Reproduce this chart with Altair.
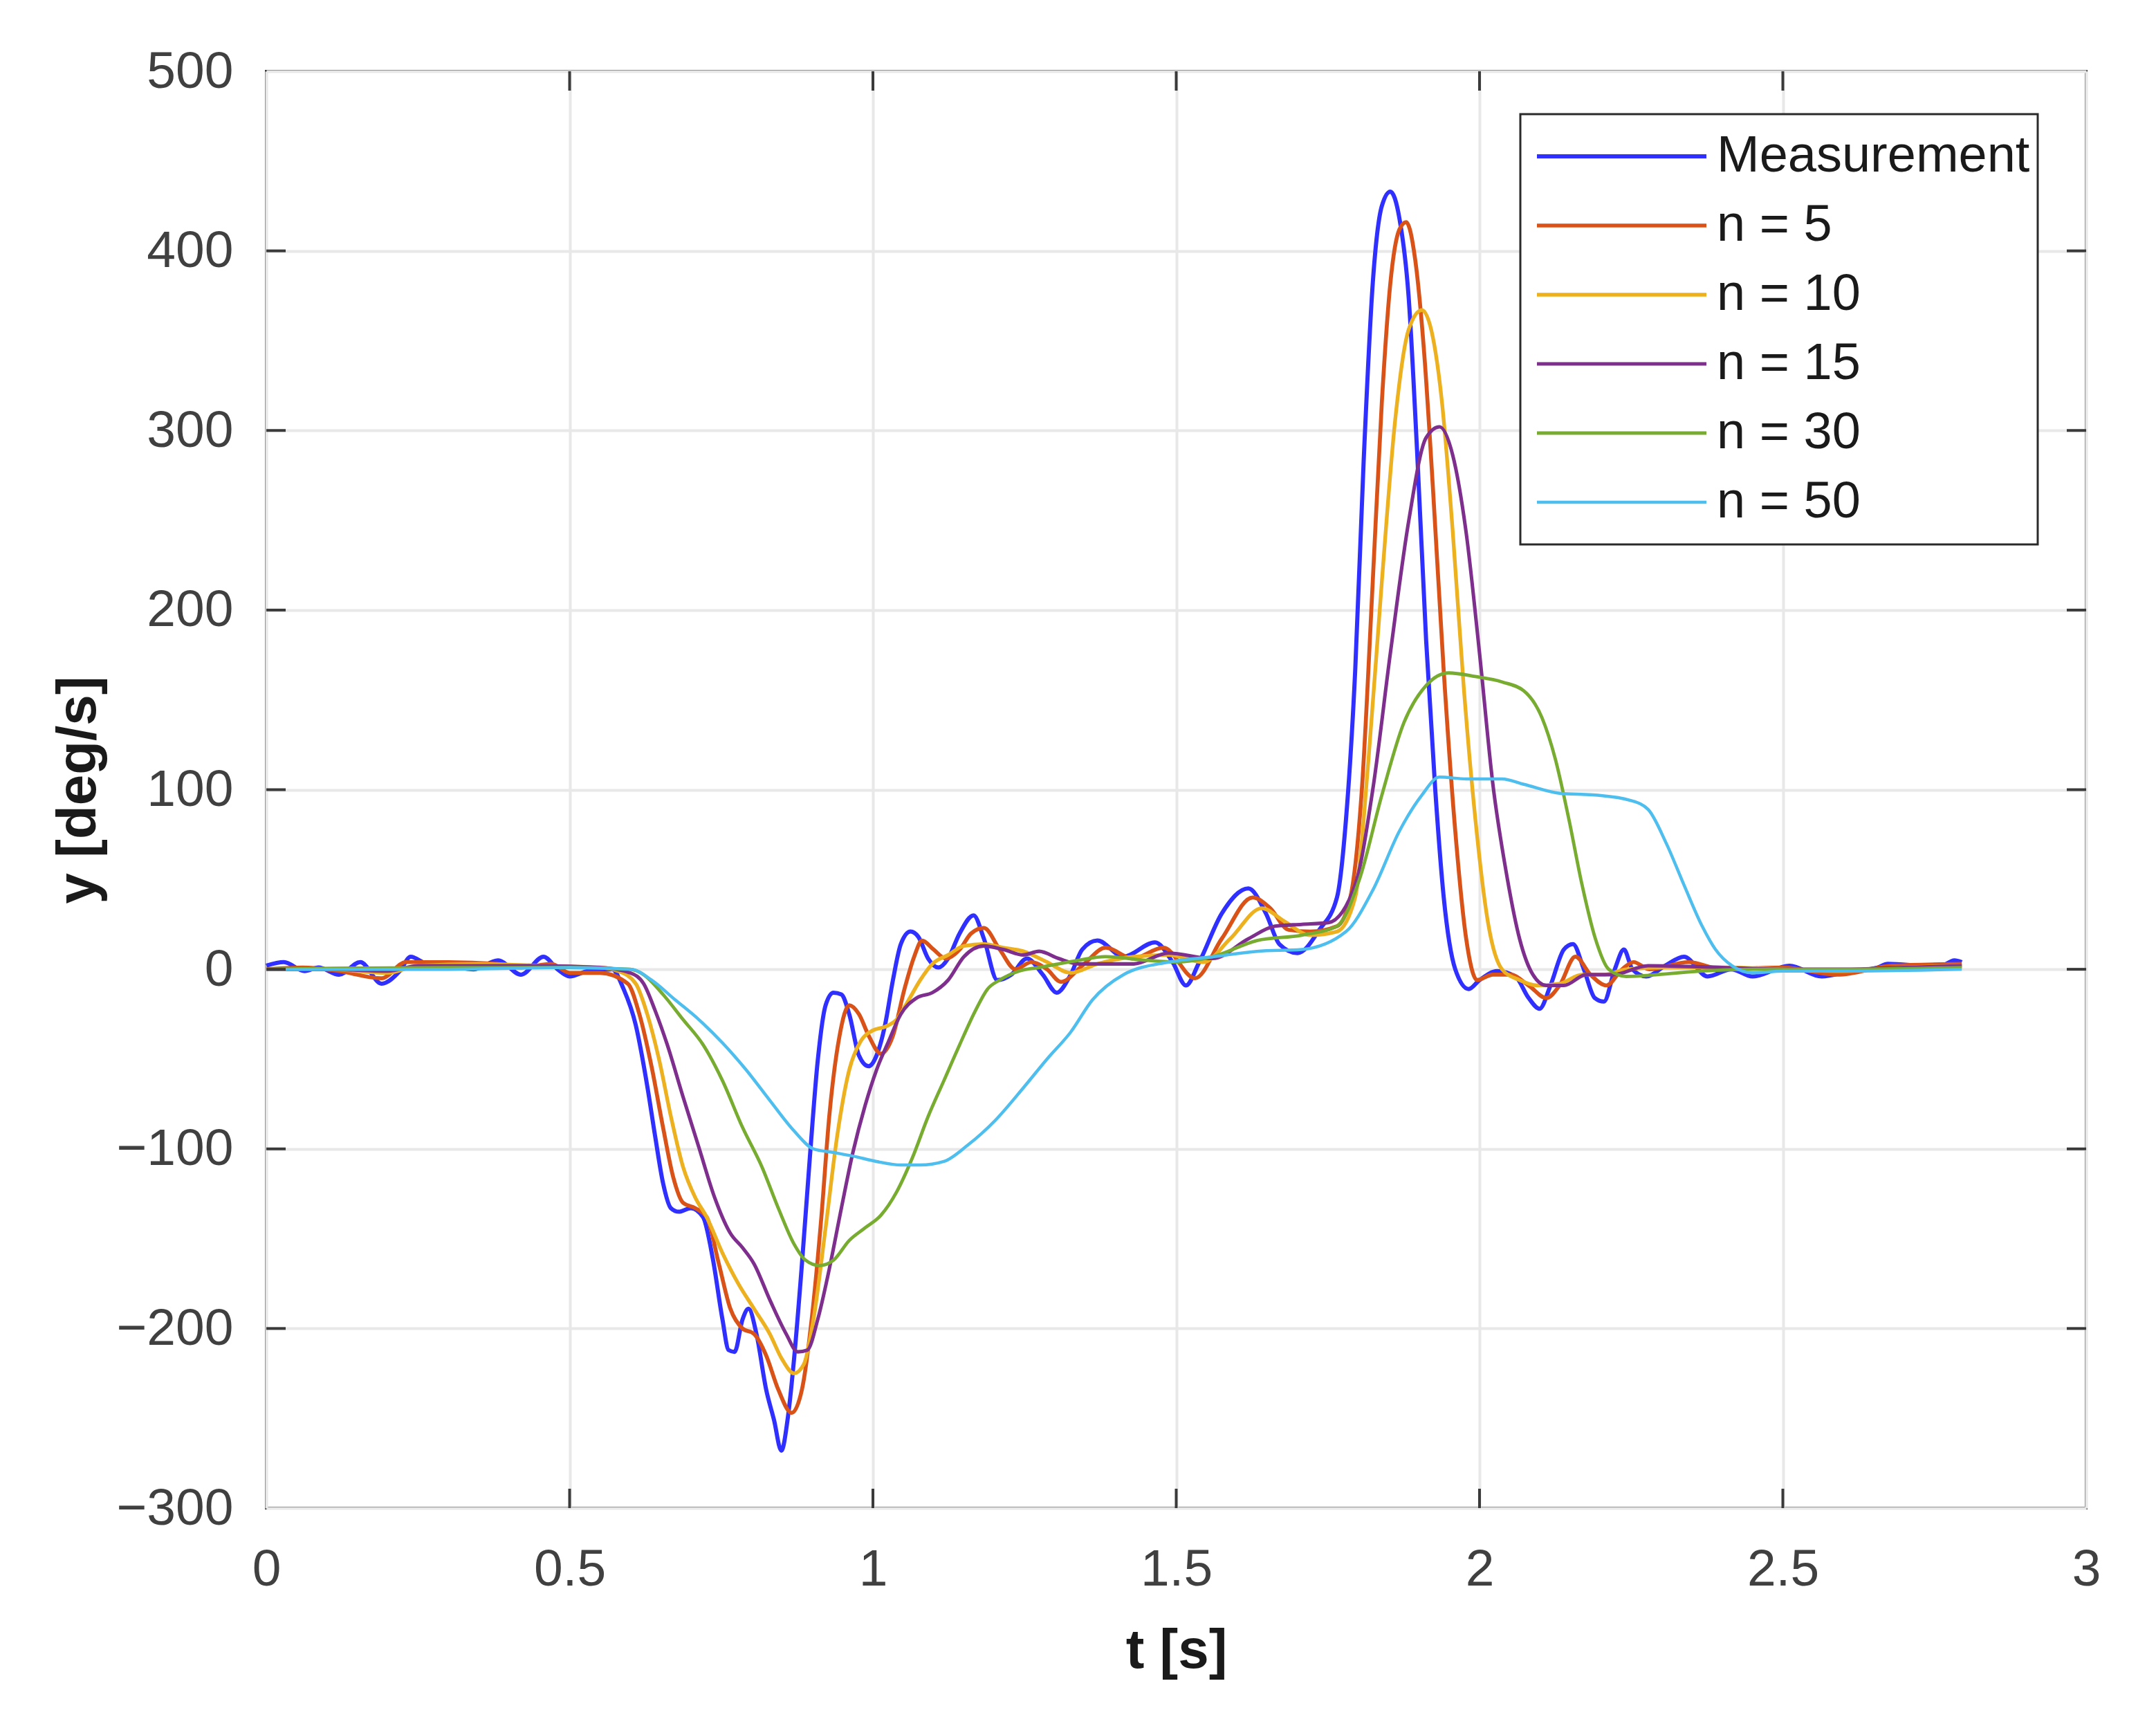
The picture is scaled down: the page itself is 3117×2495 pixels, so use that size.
import altair as alt
import pandas as pd

# ---------------- data ----------------
series_names = ["Measurement", "n = 5", "n = 10", "n = 15", "n = 30", "n = 50"]
series_colors = ["#2f2fff", "#D95319", "#EDB120", "#7E2F8E", "#77AC30", "#4DBEEE"]
series_widths = [6, 4.5, 4.5, 4.5, 4.5, 4.5]

meas_t = [0.0, 0.029, 0.063, 0.086, 0.12, 0.155, 0.19, 0.22, 0.238, 0.265, 0.30, 0.342, 0.382, 0.42, 0.457,
          0.48, 0.50, 0.53, 0.57, 0.589, 0.609, 0.628, 0.641, 0.654, 0.667, 0.68, 0.70, 0.72, 0.736, 0.752,
          0.762, 0.772, 0.785, 0.795, 0.808, 0.824, 0.837, 0.849, 0.86, 0.87, 0.883, 0.896, 0.909, 0.922,
          0.935, 0.948, 0.961, 0.977, 0.993, 1.006, 1.02, 1.033, 1.046, 1.062, 1.075, 1.091, 1.108, 1.124,
          1.143, 1.166, 1.183, 1.205, 1.228, 1.254, 1.28, 1.303, 1.326, 1.345, 1.37, 1.413, 1.465, 1.494,
          1.516, 1.538, 1.575, 1.619, 1.648, 1.67, 1.70, 1.736, 1.765, 1.78, 1.795, 1.809, 1.824, 1.839,
          1.853, 1.868, 1.883, 1.897, 1.912, 1.927, 1.941, 1.96, 1.982, 2.0, 2.029, 2.059, 2.081, 2.099,
          2.117, 2.139, 2.154, 2.172, 2.19, 2.205, 2.223, 2.238, 2.252, 2.275, 2.306, 2.337, 2.376, 2.415,
          2.45, 2.511, 2.564, 2.612, 2.656, 2.673, 2.721, 2.756, 2.783, 2.795]
meas_y = [2, 4, -1, 1, -3, 4, -8, -1, 7, 3, 2, 0, 5, -3, 7,
          0, -4, -1, 0, -11, -31, -65, -93, -119, -133, -135, -133, -138, -161, -195,
          -212, -213, -195, -189, -203, -234, -251, -268, -249, -217, -164, -105, -51, -20,
          -13, -14, -25, -48, -54, -48, -31, -6, 14, 21, 18, 6, 1, 6,
          20, 30, 17, -6, -3, 6, -3, -13, -3, 11, 16, 7, 15, 4,
          -9, 4, 31, 45, 31, 14, 9, 22, 40, 84, 166, 283, 382, 425,
          433, 418, 375, 289, 183, 100, 40, 0, -11, -6, -1, -4, -16, -22,
          -9, 11, 14, 0, -16, -18, 0, 11, 0, -4, 2, 7, -4, 0,
          -4, 2, -4, -1, 1, 3, 2, 1, 5, 4]

n5_t = [0.0, 0.06, 0.12, 0.19, 0.23, 0.30, 0.38, 0.42, 0.47, 0.50, 0.55, 0.596, 0.615, 0.635, 0.654,
        0.671, 0.687, 0.707, 0.726, 0.746, 0.765, 0.785, 0.804, 0.824, 0.844, 0.866, 0.883, 0.899, 0.915,
        0.928, 0.945, 0.961, 0.977, 0.993, 1.013, 1.033, 1.052, 1.068, 1.081, 1.10, 1.12, 1.143, 1.162,
        1.183, 1.209, 1.235, 1.261, 1.287, 1.31, 1.345, 1.384, 1.428, 1.479, 1.531, 1.575, 1.626, 1.655,
        1.685, 1.721, 1.765, 1.787, 1.806, 1.824, 1.839, 1.853, 1.868, 1.879, 1.894, 1.909, 1.923, 1.941,
        1.96, 1.978, 1.996, 2.022, 2.051, 2.081, 2.11, 2.132, 2.158, 2.183, 2.209, 2.235, 2.254, 2.28,
        2.345, 2.40, 2.50, 2.59, 2.68, 2.795]
n5_y = [0, 1, -1, -5, 4, 4, 3, 1, 3, -2, -2, -8, -25, -54, -88,
        -116, -130, -133, -138, -164, -189, -200, -203, -215, -234, -247, -234, -195, -138,
        -82, -37, -20, -25, -37, -47, -37, -11, 7, 16, 11, 6, 11, 20,
        23, 11, 0, 4, 0, -7, 2, 12, 6, 12, -5, 17, 40, 34,
        22, 21, 24, 40, 100, 216, 316, 382, 412, 416, 395, 342, 269, 166,
        77, 17, -6, -3, -3, -9, -16, -9, 7, -3, -9, 0, 4, 0,
        4, 0, 1, -3, 2, 3]

n10_t = [0.0, 0.1, 0.2, 0.25, 0.35, 0.45, 0.55, 0.58, 0.609, 0.628, 0.648, 0.667, 0.687, 0.707, 0.726,
         0.752, 0.778, 0.804, 0.83, 0.85, 0.87, 0.886, 0.902, 0.922, 0.941, 0.961, 0.98, 1.0, 1.02, 1.039,
         1.059, 1.078, 1.098, 1.124, 1.15, 1.183, 1.215, 1.248, 1.287, 1.326, 1.37, 1.43, 1.487, 1.545,
         1.589, 1.641, 1.677, 1.721, 1.765, 1.795, 1.817, 1.839, 1.861, 1.883, 1.905, 1.923, 1.938, 1.956,
         1.974, 1.993, 2.015, 2.037, 2.066, 2.095, 2.132, 2.169, 2.205, 2.242, 2.30, 2.40, 2.50, 2.60,
         2.70, 2.795]
n10_y = [0, 0, -2, 2, 3, 2, 1, -1, -8, -25, -51, -82, -110, -127, -138,
         -158, -175, -189, -203, -217, -225, -220, -195, -144, -93, -56, -40, -34, -32, -28,
         -17, -6, 3, 8, 13, 14, 12, 10, 4, -2, 3, 7, 8, 4,
         17, 34, 27, 19, 21, 40, 117, 216, 306, 356, 367, 352, 316, 243,
         157, 84, 24, 0, -6, -9, -8, -3, -3, 0, 1, 1, 0, -1,
         1, 2]

n15_t = [0.0, 0.1, 0.2, 0.25, 0.35, 0.45, 0.55, 0.60, 0.622, 0.641, 0.661, 0.687, 0.713, 0.739, 0.765,
         0.785, 0.804, 0.83, 0.857, 0.876, 0.892, 0.909, 0.928, 0.948, 0.967, 0.987, 1.006, 1.026, 1.046,
         1.072, 1.098, 1.124, 1.15, 1.183, 1.215, 1.248, 1.274, 1.306, 1.339, 1.38, 1.43, 1.487, 1.56,
         1.619, 1.663, 1.707, 1.751, 1.795, 1.824, 1.853, 1.883, 1.912, 1.934, 1.956, 1.978, 2.0, 2.022,
         2.044, 2.066, 2.088, 2.11, 2.139, 2.176, 2.22, 2.278, 2.40, 2.50, 2.60, 2.70, 2.795]
n15_y = [0, 0, -1, 2, 2, 2, 1, -2, -8, -23, -42, -71, -99, -127, -147,
         -155, -164, -184, -203, -213, -212, -195, -167, -133, -102, -76, -56, -40, -25,
         -16, -13, -6, 7, 13, 11, 8, 10, 6, 3, 3, 3, 9, 6,
         17, 24, 25, 26, 47, 100, 176, 249, 296, 302, 286, 243, 176, 103,
         54, 17, -3, -9, -9, -3, -3, 2, 1, 0, 0, 1, 2]

n30_t = [0.0, 0.3, 0.5, 0.6, 0.622, 0.654, 0.687, 0.72, 0.752, 0.785, 0.817, 0.844, 0.87, 0.889, 0.912,
         0.935, 0.961, 0.987, 1.013, 1.039, 1.065, 1.091, 1.117, 1.143, 1.169, 1.189, 1.209, 1.241, 1.274,
         1.306, 1.339, 1.383, 1.45, 1.50, 1.56, 1.633, 1.707, 1.765, 1.802, 1.839, 1.875, 1.912, 1.949,
         1.993, 2.037, 2.073, 2.103, 2.125, 2.147, 2.169, 2.191, 2.213, 2.242, 2.293, 2.367, 2.45, 2.60,
         2.795]
n30_y = [0, 1, 1, 0, -3, -14, -28, -42, -62, -88, -110, -133, -153, -162, -165,
         -162, -151, -144, -137, -124, -105, -82, -62, -42, -23, -11, -6, -1, 1,
         3, 5, 7, 5, 4, 7, 16, 19, 24, 50, 97, 137, 158, 165,
         163, 160, 155, 140, 117, 84, 47, 17, 0, -4, -3, -1, 0, 0,
         1]

n50_t = [0.0, 0.3, 0.5, 0.602, 0.635, 0.674, 0.713, 0.752, 0.791, 0.83, 0.87, 0.902, 0.935, 0.967, 1.006,
         1.046, 1.078, 1.117, 1.156, 1.202, 1.248, 1.287, 1.326, 1.362, 1.413, 1.487, 1.56, 1.633, 1.707,
         1.78, 1.824, 1.868, 1.905, 1.934, 1.978, 2.037, 2.073, 2.132, 2.191, 2.249, 2.278, 2.308, 2.337,
         2.367, 2.389, 2.416, 2.45, 2.50, 2.60, 2.795]
n50_y = [0, 0, 1, 0, -6, -17, -28, -41, -56, -73, -90, -100, -102, -104, -107,
         -109, -109, -107, -98, -84, -66, -50, -35, -17, -3, 4, 7, 10, 11,
         21, 44, 77, 97, 107, 106, 106, 103, 98, 97, 94, 89, 70, 47,
         24, 11, 2, -2, -1, -1, 0]

x_ticks = [0, 0.5, 1, 1.5, 2, 2.5, 3]
y_ticks = [-300, -200, -100, 0, 100, 200, 300, 400, 500]

# ---------------- table ----------------
all_t = [meas_t, n5_t, n10_t, n15_t, n30_t, n50_t]
all_y = [meas_y, n5_y, n10_y, n15_y, n30_y, n50_y]
rows = []
for name, ts, ys in zip(series_names, all_t, all_y):
    for t, y in zip(ts, ys):
        rows.append({"series": name, "t": t, "y": y})
df = pd.DataFrame(rows)

xt_df = pd.DataFrame({"t": [v for v in x_ticks if x_ticks[0] < v < x_ticks[-1]]})
yt_df = pd.DataFrame({"y": [v for v in y_ticks if y_ticks[0] < v < y_ticks[-1]]})

W, H = 2631, 2077
TICK = 28
FONT = "Liberation Sans"
FRAME = "#3a3a3a"

x_scale = alt.Scale(domain=[x_ticks[0], x_ticks[-1]], nice=False, zero=False)
y_scale = alt.Scale(domain=[y_ticks[0], y_ticks[-1]], nice=False, zero=False)

x_axis = alt.Axis(values=x_ticks, format="~g", title="t [s]", labelFlush=False,
                  labelPadding=52, tickSize=0, ticks=False, domain=False, labelLimit=1000,
                  titleY=230, titleBaseline="alphabetic")
y_axis = alt.Axis(values=y_ticks, format="d", title="y [deg/s]", labelLimit=1000,
                  labelPadding=48, tickSize=0, ticks=False, domain=False,
                  titleX=-248, titleAngle=270, titleBaseline="alphabetic")

lines = alt.Chart(df).mark_line(interpolate="monotone").encode(
    x=alt.X("t:Q", scale=x_scale, axis=x_axis),
    y=alt.Y("y:Q", scale=y_scale, axis=y_axis),
    color=alt.Color("series:N", sort=series_names,
                    scale=alt.Scale(domain=series_names, range=series_colors),
                    legend=alt.Legend(title=None, orient="none", legendX=1813, legendY=62,
                                      symbolType="stroke", symbolSize=60025, symbolStrokeWidth=4.5,
                                      clipHeight=100, rowPadding=0, padding=11,
                                      symbolOffset=10, labelOffset=12,
                                      labelFontSize=74, labelFont=FONT, labelColor="#1a1a1a",
                                      labelLimit=2000, strokeColor="#2a2a2a", fillColor="white",
                                      cornerRadius=0)),
    strokeWidth=alt.StrokeWidth("series:N", sort=series_names,
                                scale=alt.Scale(domain=series_names, range=series_widths),
                                legend=None),
)

tick_style = dict(color=FRAME, strokeWidth=4)
bottom_ticks = alt.Chart(xt_df).mark_rule(**tick_style).encode(
    x=alt.X("t:Q", scale=x_scale), y=alt.value(H), y2=alt.value(H - TICK))
top_ticks = alt.Chart(xt_df).mark_rule(**tick_style).encode(
    x=alt.X("t:Q", scale=x_scale), y=alt.value(0), y2=alt.value(TICK))
left_ticks = alt.Chart(yt_df).mark_rule(**tick_style).encode(
    y=alt.Y("y:Q", scale=y_scale), x=alt.value(0), x2=alt.value(TICK))
right_ticks = alt.Chart(yt_df).mark_rule(**tick_style).encode(
    y=alt.Y("y:Q", scale=y_scale), x=alt.value(W), x2=alt.value(W - TICK))

chart = alt.layer(lines, bottom_ticks, top_ticks, left_ticks, right_ticks).properties(
    width=W, height=H,
    autosize=alt.AutoSizeParams(type="none"),
    padding={"left": 377, "top": 95, "right": 93, "bottom": 307},
    background="white",
).configure_view(
    stroke=FRAME, strokeWidth=4
).configure_axis(
    labelFont=FONT, labelFontSize=75, labelColor="#404040",
    titleFont=FONT, titleFontSize=80, titleFontWeight="bold", titleColor="#1a1a1a",
    grid=True, gridColor="#e8e8e8", gridWidth=4,
).configure_legend(
    strokeWidth=3
)

chart.save("out.html", embed_options={"renderer": "svg", "actions": False})
